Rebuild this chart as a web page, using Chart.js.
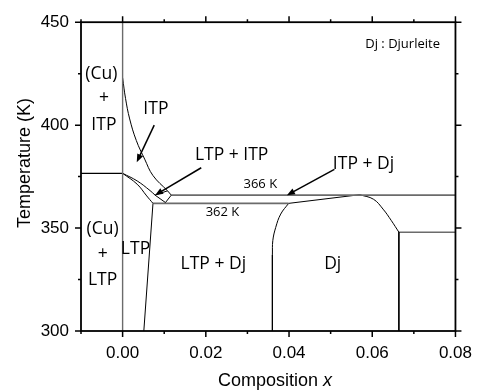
<!DOCTYPE html>
<html>
<head>
<meta charset="utf-8">
<script src="https://cdn.jsdelivr.net/npm/chart.js@4.4.1/dist/chart.umd.min.js"></script>
<style>
  body { margin: 0; background: #fff; }
  canvas { display: block; }
</style>
</head>
<body>
<canvas id="grafica" width="484" height="392"></canvas>
<script>
// ejes
const X_MIN = -0.01, X_MAX = 0.08, Y_MIN = 300, Y_MAX = 450;
const xMajorTicks = [0.00, 0.02, 0.04, 0.06, 0.08];
const yMajorTicks = [300, 350, 400, 450];

// lineas del diagrama [x, T]
const cuBoundary   = [[0, 300], [0, 450]];
const eutectoid377 = [[-0.01, 376.6], [0, 376.6]];
const itpCurve     = [[0, 423], [0.0007, 413], [0.0017, 403], [0.0033, 392.5], [0.0053, 383.5], [0.0073, 375.5], [0.0108, 368.1]];
const itpLower     = [[0, 376.6], [0.0035, 372.9], [0.0066, 368.2], [0.0078, 366]];
const ltpUpper     = [[0, 376.6], [0.0035, 371.3], [0.0058, 365.6], [0.0073, 362]];
const diamond      = [[0.0078, 366], [0.0108, 368.1], [0.0117, 366], [0.0103, 362.4], [0.0078, 366]];
const line366      = [[0.0117, 366], [0.08, 366]];
const line362      = [[0.0073, 362], [0.0399, 362]];
const ltpSolvus    = [[0.0073, 362], [0.0051, 300]];
const djTop        = [[0.0399, 362], [0.057, 366.2]];
const djLeftCurve  = [[0.0399, 362], [0.038, 356.8], [0.0368, 350.3], [0.0361, 343.9], [0.036, 337]];
const djLeftEdge   = [[0.036, 337], [0.036, 300]];
const djRightCurve = [[0.057, 366.2], [0.0603, 364], [0.0626, 359.2], [0.0646, 353.6], [0.0664, 348]];
const djRightEdge  = [[0.0664, 348], [0.0664, 300]];
const line348      = [[0.0664, 348], [0.08, 348]];

// textos [texto, x, T]
const regionLabels = [
  ['(Cu)', -0.0051, 425], ['+', -0.0045, 413], ['ITP', -0.0045, 400.2],
  ['ITP', 0.008, 408], ['LTP + ITP', 0.0262, 385.4], ['ITP + Dj', 0.0579, 381.2],
  ['(Cu)', -0.0048, 349.6], ['+', -0.0048, 337.2], ['LTP', -0.0048, 325],
  ['LTP', 0.0031, 339.9], ['LTP + Dj', 0.0218, 332.7], ['Dj', 0.0505, 332.4]
];
const smallLabels = [
  ['366 K', 0.0331, 371.2], ['362 K', 0.024, 357.6], ['Dj : Djurleite', 0.0673, 439.5]
];
// flechas [x0, T0, x1, T1]
const arrows = [
  [0.0076, 400, 0.0034, 382],
  [0.0189, 379.3, 0.0078, 366],
  [0.0509, 378.5, 0.0395, 366]
];

const GRAY = '#6b6b6b';

function serie(puntos, color, ancho, tension) {
  return {
    data: puntos.map(p => ({ x: p[0], y: p[1] })),
    borderColor: color,
    borderWidth: ancho,
    pointRadius: 0,
    showLine: true,
    fill: false,
    tension: tension || 0
  };
}

const datasets = [
  serie(cuBoundary, GRAY, 1.4),
  serie(eutectoid377, '#000', 1.2),
  serie(itpCurve, '#000', 1, 0.4),
  serie(itpLower, '#000', 1, 0.4),
  serie(ltpUpper, '#000', 1, 0.4),
  serie(diamond, '#000', 1),
  serie(line366, GRAY, 1.6),
  serie(line362, GRAY, 1.6),
  serie(ltpSolvus, '#000', 1),
  serie(djTop, '#000', 1),
  serie(djLeftCurve, '#000', 1, 0.4),
  serie(djLeftEdge, '#000', 1),
  serie(djRightCurve, '#000', 1, 0.4),
  serie(djRightEdge, '#000', 1),
  serie(line348, GRAY, 1.6)
];

const marco = {
  id: 'marco',
  afterDraw(chart) {
    const ctx = chart.ctx;
    const a = chart.chartArea;
    const xs = chart.scales.x, ys = chart.scales.y;
    ctx.save();

    // ticks en los cuatro lados
    ctx.strokeStyle = '#000';
    ctx.lineWidth = 1.5;
    ctx.beginPath();
    xs.ticks.forEach(t => {
      const px = xs.getPixelForValue(t.value);
      const mayor = xMajorTicks.some(v => Math.abs(v - t.value) < 1e-9);
      const l = mayor ? 6 : 3;
      ctx.moveTo(px, a.bottom); ctx.lineTo(px, a.bottom + l);
      ctx.moveTo(px, a.top); ctx.lineTo(px, a.top - l);
    });
    ys.ticks.forEach(t => {
      const py = ys.getPixelForValue(t.value);
      const mayor = yMajorTicks.includes(t.value);
      const l = mayor ? 6 : 3;
      ctx.moveTo(a.left, py); ctx.lineTo(a.left - l, py);
      ctx.moveTo(a.right, py); ctx.lineTo(a.right + l, py);
    });
    ctx.stroke();

    ctx.lineWidth = 1.8;
    ctx.strokeRect(a.left, a.top, a.right - a.left, a.bottom - a.top);

    // flechas
    arrows.forEach(f => {
      const x0 = xs.getPixelForValue(f[0]), y0 = ys.getPixelForValue(f[1]);
      const x1 = xs.getPixelForValue(f[2]), y1 = ys.getPixelForValue(f[3]);
      const ang = Math.atan2(y1 - y0, x1 - x0);
      const L = 8, W = 3.2;
      ctx.lineWidth = 1.5;
      ctx.beginPath();
      ctx.moveTo(x0, y0);
      ctx.lineTo(x1 - Math.cos(ang) * L * 0.8, y1 - Math.sin(ang) * L * 0.8);
      ctx.stroke();
      ctx.fillStyle = '#000';
      ctx.beginPath();
      ctx.moveTo(x1, y1);
      ctx.lineTo(x1 - Math.cos(ang) * L - Math.sin(ang) * W, y1 - Math.sin(ang) * L + Math.cos(ang) * W);
      ctx.lineTo(x1 - Math.cos(ang) * L + Math.sin(ang) * W, y1 - Math.sin(ang) * L - Math.cos(ang) * W);
      ctx.closePath();
      ctx.fill();
    });

    // textos de regiones
    ctx.fillStyle = '#000';
    ctx.textAlign = 'center';
    ctx.textBaseline = 'middle';
    ctx.font = '17.5px "Open Sans"';
    regionLabels.forEach(l => ctx.fillText(l[0], xs.getPixelForValue(l[1]), ys.getPixelForValue(l[2])));
    ctx.font = '13px "Open Sans"';
    smallLabels.forEach(l => ctx.fillText(l[0], xs.getPixelForValue(l[1]), ys.getPixelForValue(l[2])));

    // titulos de ejes
    ctx.font = '18px "Liberation Sans"';
    ctx.save();
    ctx.translate(25, 163);
    ctx.rotate(-Math.PI / 2);
    ctx.fillText('Temperature (K)', 0, 0);
    ctx.restore();

    ctx.textBaseline = 'alphabetic';
    ctx.textAlign = 'left';
    const t1 = 'Composition ';
    const w1 = ctx.measureText(t1).width;
    ctx.font = 'italic 18px "Liberation Sans"';
    const w2 = ctx.measureText('x').width;
    const x0 = 275 - (w1 + w2) / 2;
    ctx.font = '18px "Liberation Sans"';
    ctx.fillText(t1, x0, 386);
    ctx.font = 'italic 18px "Liberation Sans"';
    ctx.fillText('x', x0 + w1, 386);
    ctx.restore();
  }
};

new Chart(document.getElementById('grafica').getContext('2d'), {
  type: 'scatter',
  data: { datasets: datasets },
  options: {
    responsive: false,
    animation: false,
    layout: { padding: { top: 20, right: 20, left: 0, bottom: 0 } },
    plugins: { legend: { display: false }, tooltip: { enabled: false } },
    scales: {
      x: {
        type: 'linear', min: X_MIN, max: X_MAX,
        grid: { display: false, drawTicks: false },
        border: { display: false },
        ticks: {
          stepSize: 0.01, padding: 12, color: '#000', maxRotation: 0, autoSkip: false,
          font: { family: 'Liberation Sans', size: 17 },
          callback: v => xMajorTicks.some(m => Math.abs(m - v) < 1e-9) ? v.toFixed(2) : ''
        },
        afterFit: s => { s.height = 61; }
      },
      y: {
        type: 'linear', min: Y_MIN, max: Y_MAX,
        grid: { display: false, drawTicks: false },
        border: { display: false },
        ticks: {
          stepSize: 25, padding: 12, color: '#000', autoSkip: false,
          font: { family: 'Liberation Sans', size: 17 },
          callback: v => yMajorTicks.includes(v) ? String(v) : ''
        },
        afterFit: s => { s.width = 81; }
      }
    }
  },
  plugins: [marco]
});
</script>
</body>
</html>
